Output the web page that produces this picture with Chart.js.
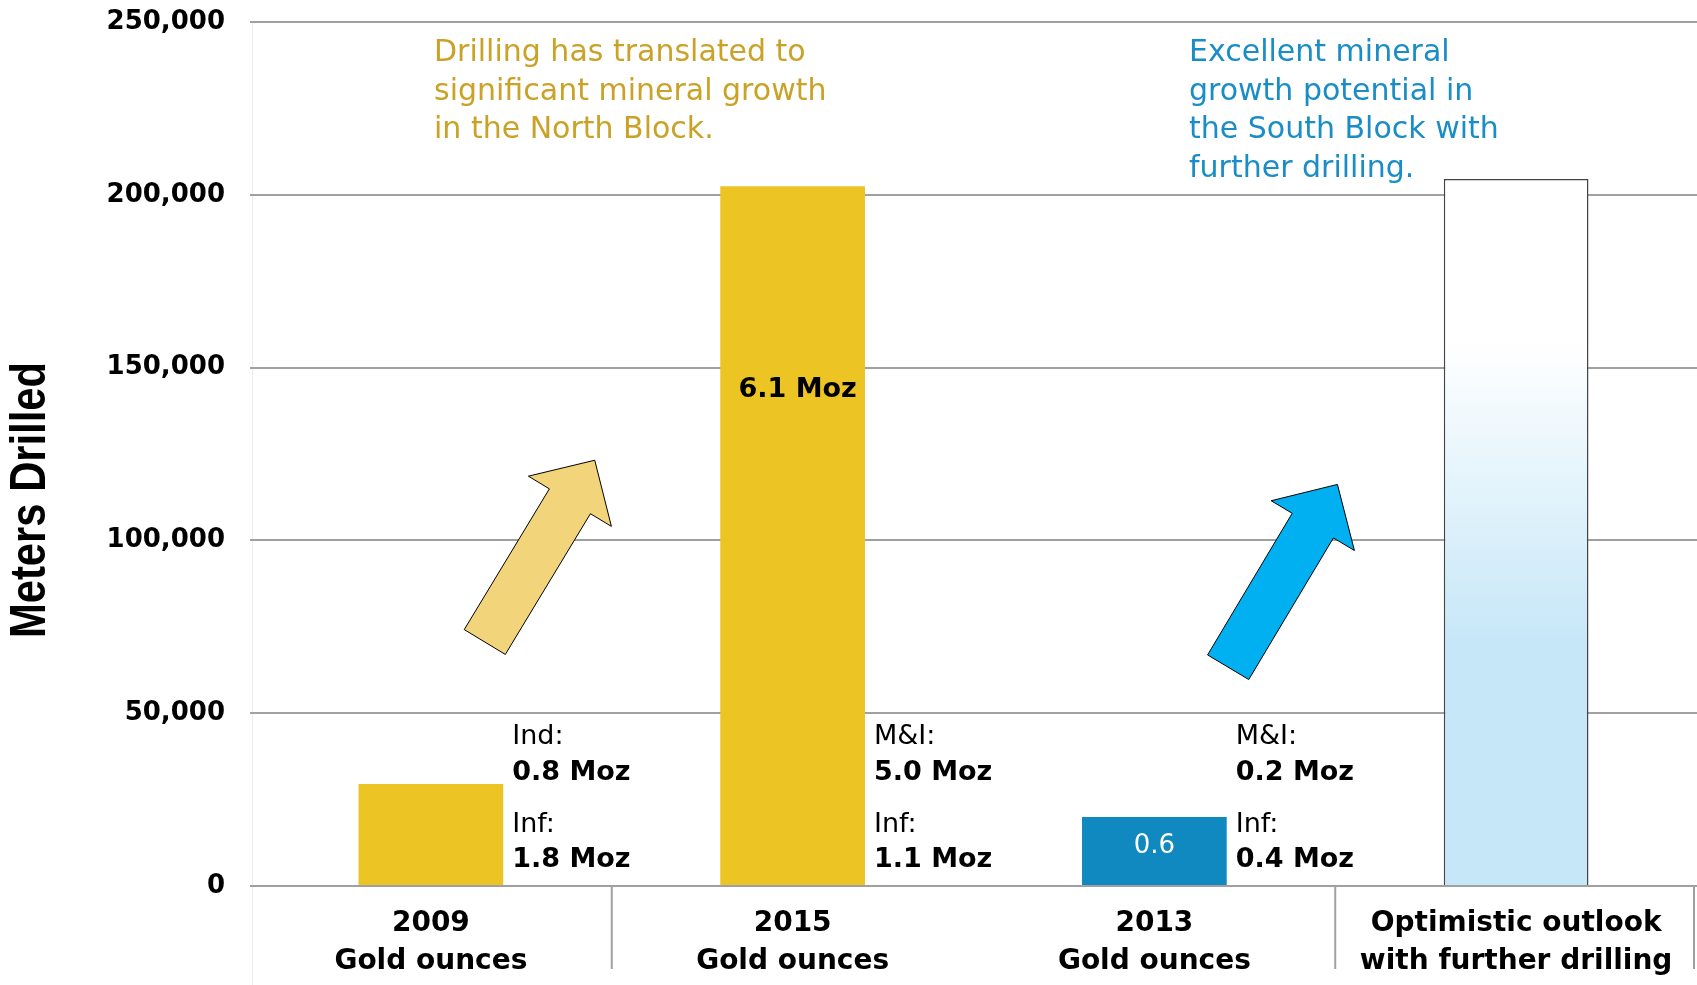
<!DOCTYPE html>
<html>
<head>
<meta charset="utf-8">
<script src="https://cdn.jsdelivr.net/npm/chart.js@4.4.1/dist/chart.umd.min.js"></script>
<style>
  html, body { margin: 0; padding: 0; background: #fff; }
  #wrap { width: 1697px; height: 985px; }
</style>
</head>
<body>
<div id="wrap"><canvas id="myChart"></canvas></div>
<script>
const categories = [
  ['2009', 'Gold ounces'],
  ['2015', 'Gold ounces'],
  ['2013', 'Gold ounces'],
  ['Optimistic outlook', 'with further drilling']
]
const metersDrilled = [29500, 202500, 20000, 204600]
const yTicks = [0, 50000, 100000, 150000, 200000, 250000]

const firstLabels = ['Ind:', 'M&I:', 'M&I:']
const firstOunces = ['0.8 Moz', '5.0 Moz', '0.2 Moz']
const secondLabels = ['Inf:', 'Inf:', 'Inf:']
const secondOunces = ['1.8 Moz', '1.1 Moz', '0.4 Moz']
const insideLabels = ['', '6.1 Moz', '0.6', '']

const northNote = ['Drilling has translated to', 'significant mineral growth', 'in the North Block.']
const southNote = ['Excellent mineral', 'growth potential in', 'the South Block with', 'further drilling.']

const gold = '#ECC424'
const blue = '#1088C0'
const fontMain = 'DejaVu Sans'

// arrows given in axis units: [category position, meters]
const arrows = [
  { tail: [0.149, 70600], tip: [0.453, 123200], fill: '#F2D47B' },
  { tail: [2.204, 63300], tip: [2.506, 116200], fill: '#00B0F0' }
]

function drawArrow(ctx, t, p, fill) {
  const dx = p[0] - t[0], dy = p[1] - t[1]
  const len = Math.hypot(dx, dy)
  const ux = dx / len, uy = dy / len
  const nx = -uy, ny = ux
  const shaft = 24, head = 48.5, headLen = 48
  const neck = [p[0] - ux * headLen, p[1] - uy * headLen]
  ctx.beginPath()
  ctx.moveTo(t[0] + nx * shaft, t[1] + ny * shaft)
  ctx.lineTo(neck[0] + nx * shaft, neck[1] + ny * shaft)
  ctx.lineTo(neck[0] + nx * head, neck[1] + ny * head)
  ctx.lineTo(p[0], p[1])
  ctx.lineTo(neck[0] - nx * head, neck[1] - ny * head)
  ctx.lineTo(neck[0] - nx * shaft, neck[1] - ny * shaft)
  ctx.lineTo(t[0] - nx * shaft, t[1] - ny * shaft)
  ctx.closePath()
  ctx.fillStyle = fill
  ctx.fill()
  ctx.strokeStyle = '#000'
  ctx.lineWidth = 1
  ctx.stroke()
}

const extras = {
  id: 'extras',
  beforeDraw(chart) {
    const { ctx, chartArea, scales } = chart
    ctx.save()
    ctx.fillStyle = '#fff'
    ctx.fillRect(0, 0, chart.width, chart.height)
    // faint left axis line
    ctx.strokeStyle = '#ececec'
    ctx.lineWidth = 1
    ctx.beginPath()
    ctx.moveTo(chartArea.left + 2.5, chartArea.top)
    ctx.lineTo(chartArea.left + 2.5, chart.height)
    ctx.stroke()
    // category separators below the axis
    const x = scales.x
    const zero = scales.y.getPixelForValue(0)
    const half = (x.getPixelForValue(1) - x.getPixelForValue(0)) / 2
    ctx.strokeStyle = '#a0a0a0'
    ctx.lineWidth = 2
    const seps = [x.getPixelForValue(0) + half, x.getPixelForValue(2) + half, chartArea.right - 3]
    seps.forEach(sx => {
      ctx.beginPath()
      ctx.moveTo(sx, zero)
      ctx.lineTo(sx, zero + 83)
      ctx.stroke()
    })
    ctx.restore()
  },
  afterDatasetsDraw(chart) {
    const { ctx, chartArea, scales } = chart
    const x = scales.x, y = scales.y
    const bars = chart.getDatasetMeta(0).data
    const zero = y.getPixelForValue(0)
    ctx.save()
    ctx.textBaseline = 'middle'

    // side labels
    ctx.textAlign = 'left'
    firstLabels.forEach((lab, i) => {
      const bx = bars[i].x + bars[i].width / 2 + 9
      ctx.fillStyle = '#000'
      ctx.font = `27px ${fontMain}`
      ctx.fillText(lab, bx, zero - 149)
      ctx.font = `bold 27px ${fontMain}`
      ctx.fillText(firstOunces[i], bx, zero - 113)
      ctx.font = `27px ${fontMain}`
      ctx.fillText(secondLabels[i], bx, zero - 61)
      ctx.font = `bold 27px ${fontMain}`
      ctx.fillText(secondOunces[i], bx, zero - 26)
    })

    // labels inside bars
    ctx.textAlign = 'center'
    ctx.font = `bold 27px ${fontMain}`
    ctx.fillStyle = '#000'
    ctx.fillText(insideLabels[1], bars[1].x + 5, y.getPixelForValue(143500))
    ctx.font = `26px ${fontMain}`
    ctx.fillStyle = '#fff'
    ctx.fillText(insideLabels[2], bars[2].x, (bars[2].y + zero) / 2 - 5)

    // arrows
    arrows.forEach(a => {
      const t = [x.getPixelForValue(a.tail[0]), y.getPixelForValue(a.tail[1])]
      const p = [x.getPixelForValue(a.tip[0]), y.getPixelForValue(a.tip[1])]
      drawArrow(ctx, t, p, a.fill)
    })

    // notes
    ctx.textAlign = 'left'
    ctx.font = `30px ${fontMain}`
    ctx.fillStyle = '#C9A227'
    northNote.forEach((line, i) => ctx.fillText(line, chartArea.left + 184, chartArea.top + 31.5 + i * 38.5))
    ctx.fillStyle = '#1A8DC6'
    southNote.forEach((line, i) => ctx.fillText(line, chartArea.left + 939, chartArea.top + 31.5 + i * 38.5))

    // y axis title, squeezed to a condensed look
    ctx.translate(31, 500)
    ctx.rotate(-Math.PI / 2)
    ctx.textAlign = 'center'
    ctx.fillStyle = '#000'
    ctx.font = `bold 50px 'Liberation Sans', sans-serif`
    const w = ctx.measureText('Meters Drilled').width
    ctx.scale(276 / w, 1)
    ctx.fillText('Meters Drilled', 0, 0)
    ctx.restore()
  }
}

function drawChart() {
  const chart = document.getElementById('myChart').getContext('2d')
  const myChart = new Chart(chart, {
    type: 'bar',
    data: {
      labels: categories,
      datasets: [{
        label: 'Meters Drilled',
        data: metersDrilled,
        backgroundColor: ctx => {
          if (ctx.dataIndex < 3) return [gold, gold, blue][ctx.dataIndex]
          const area = ctx.chart.chartArea
          if (!area) return '#C8E8F8'
          const g = ctx.chart.ctx.createLinearGradient(0, area.top, 0, area.bottom)
          g.addColorStop(0, '#ffffff')
          g.addColorStop(0.37, '#ffffff')
          g.addColorStop(0.72, '#C6E7F8')
          g.addColorStop(1, '#C6E7F8')
          return g
        },
        borderColor: '#444',
        borderWidth: [0, 0, 0, 1.5],
        borderSkipped: 'bottom',
        categoryPercentage: 1,
        barPercentage: 0.4
      }]
    },
    options: {
      responsive: true,
      maintainAspectRatio: false,
      animation: false,
      layout: { padding: { top: 22, right: 0, left: 0, bottom: 0 } },
      plugins: {
        legend: { display: false },
        tooltip: { enabled: false }
      },
      scales: {
        x: {
          grid: { display: false, drawTicks: false },
          border: { display: false },
          ticks: {
            color: '#000',
            padding: 19,
            font: { family: fontMain, weight: 'bold', size: 28, lineHeight: 1.36 }
          },
          afterFit: s => { s.height = 99 }
        },
        y: {
          min: 0,
          max: 250000,
          afterBuildTicks: s => { s.ticks = yTicks.map(v => ({ value: v })) },
          grid: { color: '#a0a0a0', lineWidth: 2, drawTicks: false },
          border: { display: false },
          ticks: {
            color: '#000',
            padding: 25,
            font: { family: fontMain, weight: 'bold', size: 26 }
          },
          afterFit: s => {
            s.width = 250
            s.paddingTop = 0
            s.paddingBottom = 0
          }
        }
      }
    },
    plugins: [extras]
  })
  return myChart
}

drawChart()
</script>
</body>
</html>
